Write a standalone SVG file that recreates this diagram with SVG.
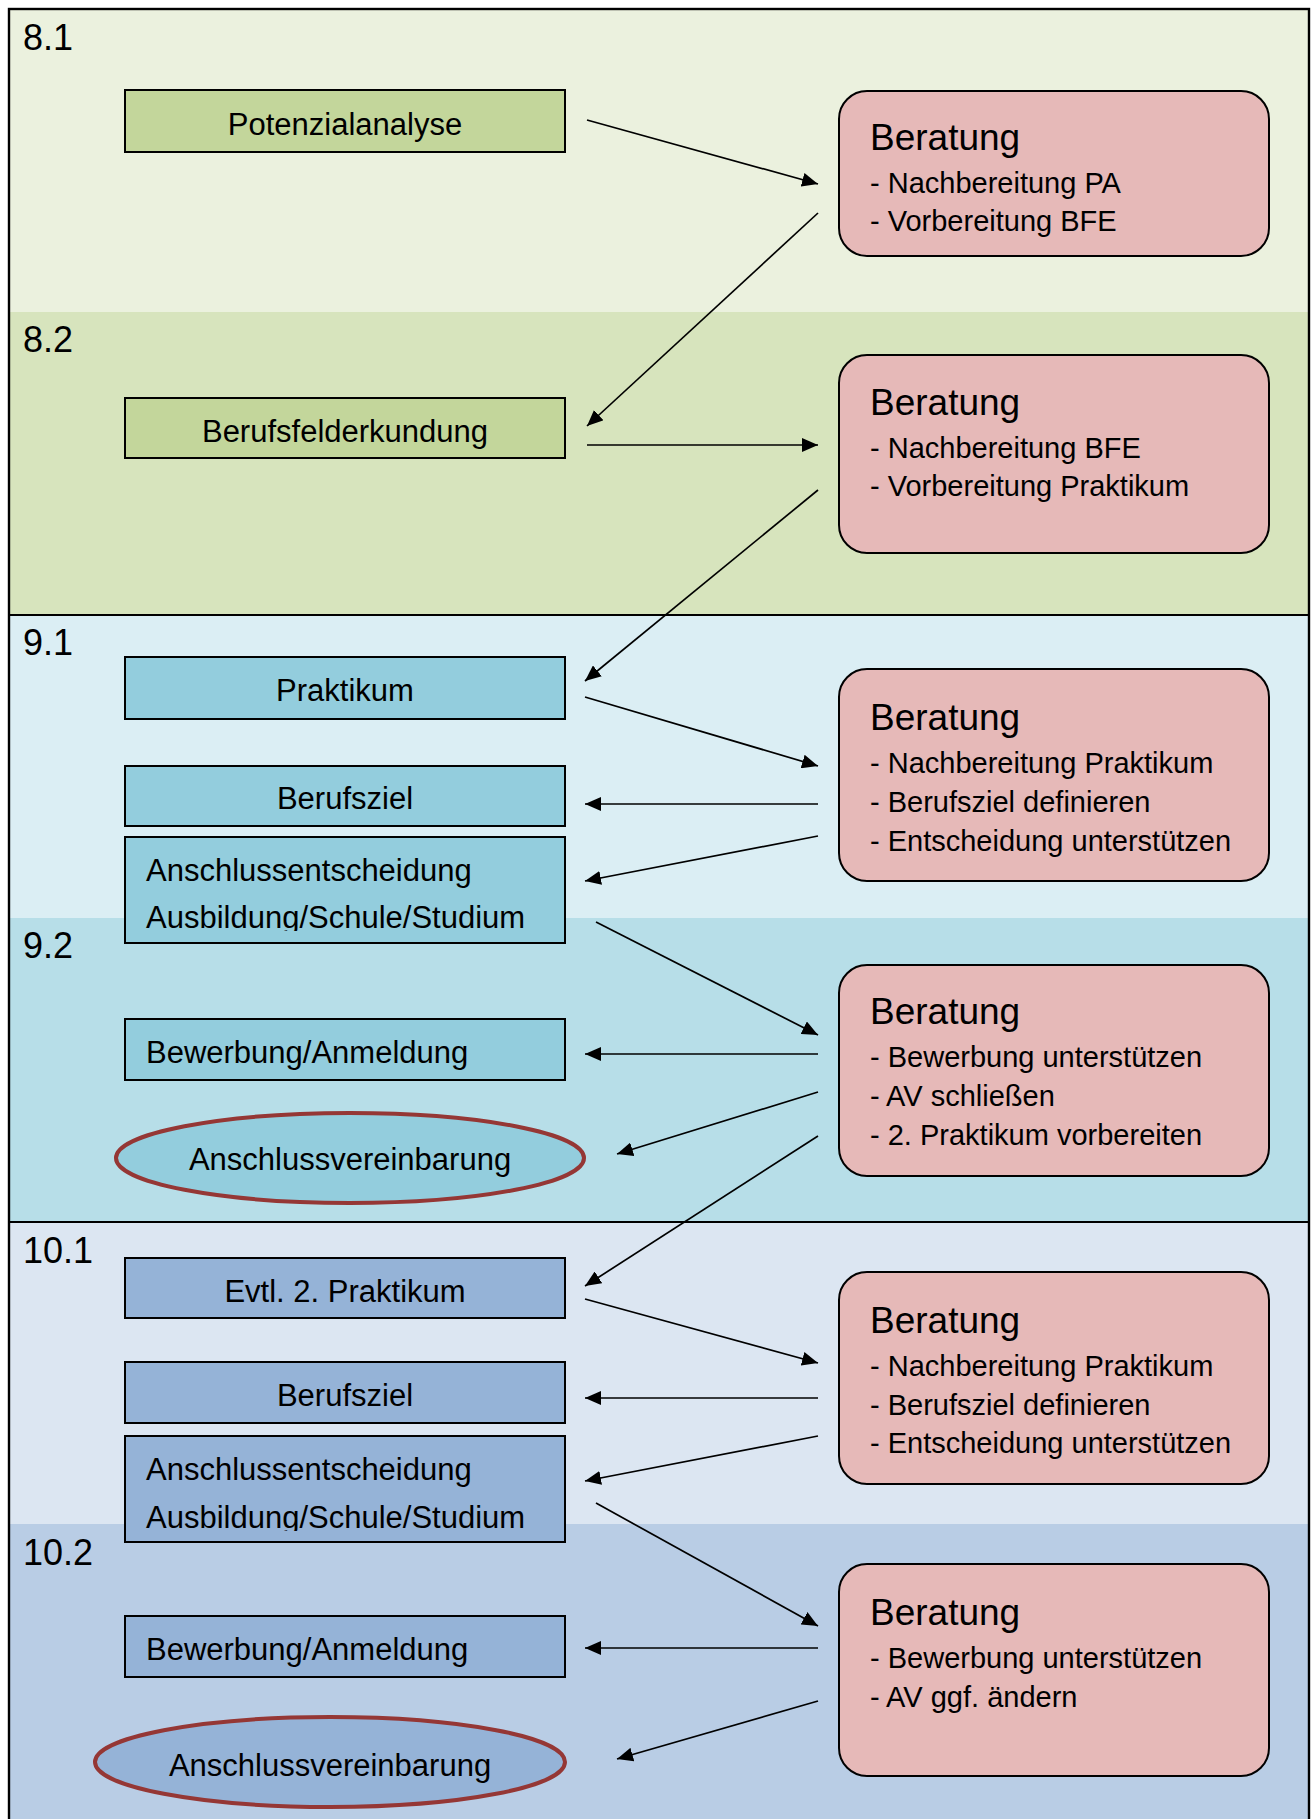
<svg xmlns="http://www.w3.org/2000/svg" width="1314" height="1819" viewBox="0 0 1314 1819">
<style>
text{font-family:"Liberation Sans",Arial,sans-serif;fill:#000}
.lbl{font-size:36px}
.bx{stroke:#000;stroke-width:2}
.g{fill:#C3D69B}
.t{fill:#93CDDD}
.b{fill:#95B3D7}
.bt{font-size:31px;text-anchor:middle}
.bl{font-size:31px}
.ell{stroke:#953735;stroke-width:4}
.ber{fill:#E6B9B8;stroke:#000;stroke-width:2}
.bh{font-size:37px}
.bi{font-size:29px}
.con line{stroke:#000;stroke-width:1.7;marker-end:url(#ah)}
</style>
<defs>
<marker id="ah" markerUnits="userSpaceOnUse" markerWidth="16" markerHeight="14" refX="16" refY="7" orient="auto" viewBox="0 0 16 14">
<path d="M0,0 L16,7 L0,14 z" fill="#000"/>
</marker>
<clipPath id="c1"><rect x="125" y="830" width="440" height="101"/></clipPath>
<clipPath id="c2"><rect x="125" y="1430" width="440" height="101"/></clipPath>
</defs>
<g id="bands">
<rect x="9" y="9" width="1300" height="303" fill="#EBF1DE"/>
<rect x="9" y="312" width="1300" height="303" fill="#D7E4BD"/>
<rect x="9" y="615" width="1300" height="303" fill="#DBEEF4"/>
<rect x="9" y="918" width="1300" height="304" fill="#B7DEE8"/>
<rect x="9" y="1222" width="1300" height="302" fill="#DCE6F2"/>
<rect x="9" y="1524" width="1300" height="300" fill="#B9CDE5"/>
<line x1="9" y1="615" x2="1309" y2="615" stroke="#000" stroke-width="2"/>
<line x1="9" y1="1222" x2="1309" y2="1222" stroke="#000" stroke-width="2"/>
<rect x="9" y="9" width="1300" height="1830" fill="none" stroke="#000" stroke-width="2.4"/>
<text class="lbl" x="23" y="50">8.1</text>
<text class="lbl" x="23" y="352">8.2</text>
<text class="lbl" x="23" y="655">9.1</text>
<text class="lbl" x="23" y="958">9.2</text>
<text class="lbl" x="23" y="1263">10.1</text>
<text class="lbl" x="23" y="1565">10.2</text>
</g>
<g id="potenzialanalyse"><rect class="bx g" x="125" y="90" width="440" height="62"/><text class="bt" x="345" y="135">Potenzialanalyse</text></g>
<g id="berufsfelderkundung"><rect class="bx g" x="125" y="398" width="440" height="60"/><text class="bt" x="345" y="442">Berufsfelderkundung</text></g>
<g id="praktikum"><rect class="bx t" x="125" y="657" width="440" height="62"/><text class="bt" x="345" y="701">Praktikum</text></g>
<g id="berufsziel1"><rect class="bx t" x="125" y="766" width="440" height="60"/><text class="bt" x="345" y="809">Berufsziel</text></g>
<g id="anschlussentscheidung1"><rect class="bx t" x="125" y="837" width="440" height="106"/><g clip-path="url(#c1)"><text class="bl" x="146" y="881">Anschlussentscheidung</text><text class="bl" x="146" y="928">Ausbildung/Schule/Studium</text></g></g>
<g id="bewerbung1"><rect class="bx t" x="125" y="1019" width="440" height="61"/><text class="bl" x="146" y="1063">Bewerbung/Anmeldung</text></g>
<g id="anschlussvereinbarung1"><ellipse class="ell t" cx="350" cy="1158" rx="234" ry="45"/><text class="bt" x="350" y="1170">Anschlussvereinbarung</text></g>
<g id="praktikum2"><rect class="bx b" x="125" y="1258" width="440" height="60"/><text class="bt" x="345" y="1302">Evtl. 2. Praktikum</text></g>
<g id="berufsziel2"><rect class="bx b" x="125" y="1362" width="440" height="61"/><text class="bt" x="345" y="1406">Berufsziel</text></g>
<g id="anschlussentscheidung2"><rect class="bx b" x="125" y="1436" width="440" height="106"/><g clip-path="url(#c2)"><text class="bl" x="146" y="1480">Anschlussentscheidung</text><text class="bl" x="146" y="1528">Ausbildung/Schule/Studium</text></g></g>
<g id="bewerbung2"><rect class="bx b" x="125" y="1616" width="440" height="61"/><text class="bl" x="146" y="1660">Bewerbung/Anmeldung</text></g>
<g id="anschlussvereinbarung2"><ellipse class="ell b" cx="330" cy="1762" rx="235" ry="45"/><text class="bt" x="330" y="1776">Anschlussvereinbarung</text></g>
<g id="beratung1"><rect class="ber" x="839" y="91" width="430" height="165" rx="28"/><text class="bh" x="870" y="150">Beratung</text><text class="bi" x="870" y="193">- Nachbereitung PA</text><text class="bi" x="870" y="231">- Vorbereitung BFE</text></g>
<g id="beratung2"><rect class="ber" x="839" y="355" width="430" height="198" rx="28"/><text class="bh" x="870" y="415">Beratung</text><text class="bi" x="870" y="458">- Nachbereitung BFE</text><text class="bi" x="870" y="496">- Vorbereitung Praktikum</text></g>
<g id="beratung3"><rect class="ber" x="839" y="669" width="430" height="212" rx="28"/><text class="bh" x="870" y="730">Beratung</text><text class="bi" x="870" y="773">- Nachbereitung Praktikum</text><text class="bi" x="870" y="812">- Berufsziel definieren</text><text class="bi" x="870" y="851">- Entscheidung unterstützen</text></g>
<g id="beratung4"><rect class="ber" x="839" y="965" width="430" height="211" rx="28"/><text class="bh" x="870" y="1024">Beratung</text><text class="bi" x="870" y="1067">- Bewerbung unterstützen</text><text class="bi" x="870" y="1106">- AV schließen</text><text class="bi" x="870" y="1145">- 2. Praktikum vorbereiten</text></g>
<g id="beratung5"><rect class="ber" x="839" y="1272" width="430" height="212" rx="28"/><text class="bh" x="870" y="1333">Beratung</text><text class="bi" x="870" y="1376">- Nachbereitung Praktikum</text><text class="bi" x="870" y="1415">- Berufsziel definieren</text><text class="bi" x="870" y="1453">- Entscheidung unterstützen</text></g>
<g id="beratung6"><rect class="ber" x="839" y="1564" width="430" height="212" rx="28"/><text class="bh" x="870" y="1625">Beratung</text><text class="bi" x="870" y="1668">- Bewerbung unterstützen</text><text class="bi" x="870" y="1707">- AV ggf. ändern</text></g>
<g id="connectors" class="con">
<line x1="587" y1="120" x2="818" y2="184"/>
<line x1="818" y1="213" x2="587" y2="426"/>
<line x1="587" y1="445" x2="818" y2="445"/>
<line x1="818" y1="490" x2="585" y2="681"/>
<line x1="585" y1="697" x2="818" y2="766"/>
<line x1="818" y1="804" x2="585" y2="804"/>
<line x1="818" y1="836" x2="585" y2="881"/>
<line x1="596" y1="922" x2="818" y2="1035"/>
<line x1="818" y1="1054" x2="585" y2="1054"/>
<line x1="818" y1="1092" x2="617" y2="1154"/>
<line x1="818" y1="1136" x2="585" y2="1286"/>
<line x1="585" y1="1299" x2="818" y2="1363"/>
<line x1="818" y1="1398" x2="585" y2="1398"/>
<line x1="818" y1="1436" x2="585" y2="1481"/>
<line x1="596" y1="1503" x2="818" y2="1626"/>
<line x1="818" y1="1648" x2="585" y2="1648"/>
<line x1="818" y1="1701" x2="617" y2="1759"/>
</g>
</svg>
